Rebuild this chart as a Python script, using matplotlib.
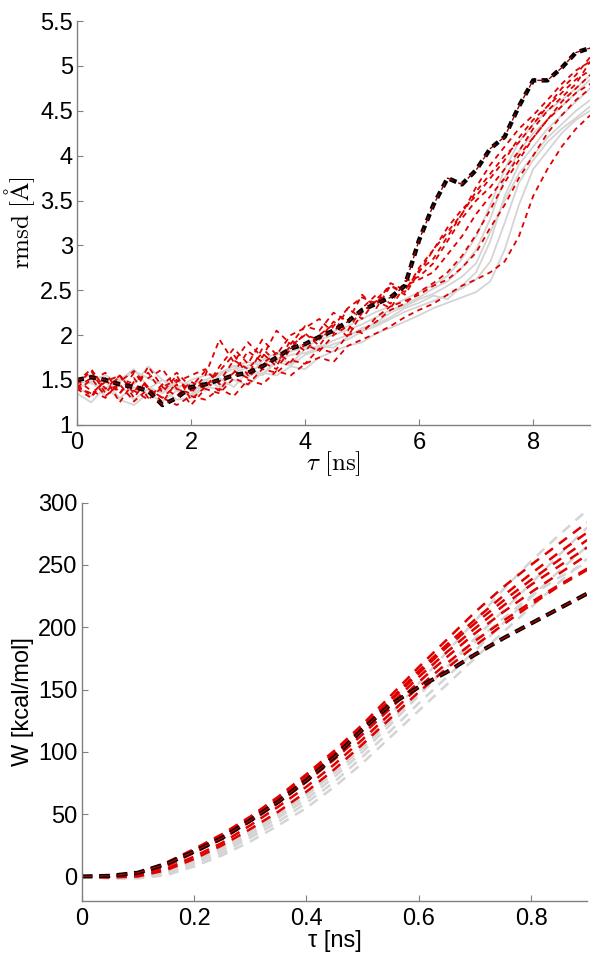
import numpy as np
import matplotlib.pyplot as plt

plt.rcParams['font.family'] = ['Liberation Sans', 'DejaVu Sans']
plt.rcParams['mathtext.fontset'] = 'cm'

# ---- top panel: rmsd vs tau (ns), sampled every 0.25 ns ----
t_rmsd = np.arange(0, 9.001, 0.25)

rmsd_gray = [
    [1.42,1.32,1.48,1.30,1.42,1.34,1.26,1.38,1.32, 1.45,1.52,1.42,1.60,1.55,1.70,1.66,1.78,
     1.84,1.90,1.95,2.04,2.10,2.18,2.26,2.32, 2.38,2.45,2.52,2.62,2.82, 3.25,3.70,3.95,4.15,4.30,4.42,4.55],
    [1.48,1.56,1.38,1.50,1.62,1.42,1.35,1.48,1.44, 1.38,1.55,1.66,1.52,1.72,1.75,1.68,1.84,
     1.88,1.86,1.98,2.08,2.12,2.20,2.30,2.36, 2.44,2.40,2.55,2.70,3.05, 3.55,3.90,4.10,4.30,4.45,4.60,4.75],
    [1.35,1.25,1.42,1.28,1.22,1.35,1.40,1.28,1.30, 1.42,1.40,1.50,1.44,1.58,1.55,1.65,1.62,
     1.75,1.82,1.88,1.92,2.02,2.08,2.15,2.22, 2.30,2.36,2.42,2.48,2.60, 2.95,3.45,3.85,4.05,4.25,4.40,4.50],
    [1.45,1.50,1.55,1.48,1.60,1.52,1.45,1.40,1.50, 1.55,1.58,1.65,1.70,1.66,1.78,1.82,1.86,
     1.95,2.00,2.06,2.12,2.20,2.28,2.34,2.42, 2.52,2.60,2.75,2.95,3.30, 3.75,4.05,4.25,4.40,4.55,4.70,4.85],
    [1.40,1.48,1.32,1.45,1.28,1.40,1.50,1.38,1.34, 1.50,1.42,1.58,1.64,1.56,1.72,1.78,1.80,
     1.86,1.94,2.00,2.06,2.14,2.25,2.32,2.40, 2.46,2.55,2.65,2.80,3.15, 3.50,3.80,4.00,4.20,4.35,4.50,4.62],
    [1.50,1.46,1.40,1.52,1.45,1.65,1.50,1.42,1.46, 1.50,1.56,1.62,1.66,1.72,1.80,1.85,1.90,
     1.98,2.04,2.10,2.18,2.26,2.32,2.40,2.48, 2.56,2.66,2.85,3.10,3.45, 3.85,4.15,4.35,4.50,4.62,4.75,4.90],
]

rmsd_red = [
    [1.45,1.60,1.35,1.55,1.30,1.52,1.62,1.40,1.35, 1.55,1.95,1.70,1.92,1.75,2.05,1.90,2.10,
     2.05,2.25,2.15,2.45,2.30,2.55,2.45,2.70, 2.95,3.20,3.40,3.55,3.75, 3.95,4.20,4.40,4.55,4.70,4.85,4.95],
    [1.40,1.30,1.52,1.25,1.48,1.58,1.36,1.55,1.28, 1.42,1.60,1.78,1.55,1.85,1.70,1.88,2.00,
     1.95,2.15,2.05,2.30,2.45,2.35,2.60,2.65, 2.80,3.05,3.30,3.50,3.65, 3.85,4.05,4.30,4.50,4.65,4.80,5.05],
    [1.50,1.38,1.30,1.48,1.60,1.42,1.25,1.48,1.55, 1.62,1.45,1.58,1.82,1.70,1.62,1.85,2.02,
     1.88,2.10,2.30,2.18,2.40,2.55,2.48,2.75, 2.95,3.15,3.35,3.60,3.80, 4.00,4.15,4.35,4.55,4.75,4.90,5.10],
    [1.42,1.52,1.32,1.45,1.26,1.40,1.30,1.22,1.32, 1.28,1.40,1.32,1.50,1.45,1.60,1.55,1.68,
     1.75,1.70,1.88,1.95,2.02,2.10,2.20,2.28, 2.35,2.45,2.55,2.62,2.70, 2.82,3.10,3.55,3.85,4.10,4.30,4.45],
    [1.38,1.50,1.58,1.35,1.52,1.30,1.45,1.58,1.42, 1.60,1.48,1.72,1.62,1.80,1.65,1.95,1.82,
     2.00,2.12,1.98,2.25,2.38,2.30,2.55,2.62, 2.70,2.90,3.10,3.35,3.55, 3.75,4.00,4.20,4.40,4.60,4.75,4.90],
    [1.45,1.32,1.50,1.35,1.58,1.40,1.30,1.45,1.22, 1.40,1.35,1.52,1.45,1.62,1.58,1.72,1.68,
     1.85,1.80,2.00,2.05,2.15,2.28,2.35,2.48, 2.58,2.70,2.88,3.12,3.40, 3.70,3.95,4.20,4.40,4.55,4.70,4.80],
    [1.48,1.62,1.40,1.55,1.35,1.65,1.42,1.32,1.48, 1.40,1.65,1.85,1.68,1.95,1.78,2.00,2.08,
     2.18,2.02,2.30,2.42,2.35,2.58,2.50,2.72, 2.85,3.10,3.35,3.65,3.90, 4.10,4.30,4.45,4.62,4.80,4.95,5.05],
    [1.42,1.35,1.48,1.55,1.38,1.28,1.42,1.50,1.38, 1.48,1.38,1.60,1.52,1.68,1.80,1.70,1.90,
     1.82,2.00,2.10,2.02,2.20,2.32,2.38,2.45, 2.55,2.62,2.75,2.92,3.20, 3.45,3.75,4.00,4.25,4.45,4.62,4.75],
]

rmsd_best = [1.50,1.53,1.50,1.45,1.42,1.38,1.22,1.30,1.42, 1.45,1.50,1.55,1.58,1.65,1.75,1.85,1.90,
             1.98,2.05,2.15,2.28,2.35,2.42,2.55,3.06, 3.45,3.75,3.68,3.84,4.08, 4.21,4.55,4.84,4.84,4.98,5.15,5.20]

# ---- bottom panel: work vs tau (ns), every 0.05 ns ----
t_work = np.arange(0, 0.9001, 0.05)

work_gray = [
    [0,-1,-0.5,4,13,23,36,51,67,86,107,130,155,180,205,230,253,274,294],
    [0,-1,-1,3,11,21,33,47,62,80,100,122,145,168,191,213,235,258,280],
    [0,-1.5,-1,2,10,19,31,44,59,76,96,117,139,160,181,203,224,245,265],
    [0,-1.5,-1.5,1,8,17,28,41,55,72,91,112,133,154,175,196,216,236,255],
    [0,-1,-0.5,3,12,22,35,49,65,83,103,125,147,168,188,207,225,240,252],
]

work_red = [
    [0,0.5,3,11,22,34,48,64,82,101,122,145,168,190,212,232,250,267,284],
    [0,0.3,2.5,10,21,33,47,63,80,99,120,142,165,186,206,225,243,260,276],
    [0,0.2,2,9,20,32,46,61,78,97,117,138,160,180,199,217,234,249,264],
    [0,0,1.5,8,19,30,44,59,76,94,114,135,156,176,195,212,228,243,258],
    [0,-0.5,0.5,6,16,27,41,56,72,90,110,131,152,171,189,205,220,234,247],
    [0,0.4,3,10,21,33,47,62,80,99,119,141,163,184,203,221,238,254,270],
    [0,-0.8,0,5,14,25,38,52,68,86,106,127,148,167,185,202,218,233,246],
]

work_best = [0,0.5,3,10,20,31,45,60,77,96,118,138,152,164,178,191,203,215,227]

gray = '#d4d4d4'
red = '#e00000'
axcol = '#808080'

fig = plt.figure(figsize=(6.01, 9.61), dpi=100)
ax1 = fig.add_axes([0.128, 0.558, 0.854, 0.420])
ax2 = fig.add_axes([0.136, 0.062, 0.841, 0.415])

for y in rmsd_gray:
    ax1.plot(t_rmsd, y, '-', color=gray, lw=1.3)
for y in rmsd_red:
    ax1.plot(t_rmsd, y, '--', color=red, lw=1.3, dashes=(3, 2.5))
ax1.plot(t_rmsd, rmsd_best, '--', color='black', lw=3.2, dashes=(1.6, 1.2))
ax1.plot(t_rmsd, rmsd_best, '--', color='#8b0000', lw=1.0, dashes=(5.1, 3.8))

for y in work_gray:
    ax2.plot(t_work, y, '--', color=gray, lw=1.8, dashes=(4, 3))
for y in work_red:
    ax2.plot(t_work, y, '--', color=red, lw=1.8, dashes=(4, 3))
ax2.plot(t_work, work_best, '--', color='black', lw=3.0, dashes=(2.6, 1.6))
ax2.plot(t_work, work_best, '--', color='#b00000', lw=1.0, dashes=(7.8, 4.8))

ax1.set_xlim(0, 9)
ax1.set_ylim(1, 5.5)
ax1.set_xticks([0, 2, 4, 6, 8])
ax1.set_yticks(np.arange(1, 5.51, 0.5))
ax1.set_yticklabels(['1', '1.5', '2', '2.5', '3', '3.5', '4', '4.5', '5', '5.5'])
ax1.set_xlabel(r'$\tau\ [\mathrm{ns}]$', fontsize=18, labelpad=-3)
ax1.set_ylabel(r'$\mathrm{rmsd}\ [\mathrm{\AA}]$', fontsize=18, labelpad=2)

ax2.set_xlim(0, 0.9)
ax2.set_ylim(-20, 300)
ax2.set_xticks([0, 0.2, 0.4, 0.6, 0.8])
ax2.set_xticklabels(['0', '0.2', '0.4', '0.6', '0.8'])
ax2.set_yticks(np.arange(0, 301, 50))
ax2.set_xlabel('τ [ns]', fontsize=17, labelpad=0)
ax2.set_ylabel('W [kcal/mol]', fontsize=17, labelpad=3)

for ax in (ax1, ax2):
    for s in ('top', 'right'):
        ax.spines[s].set_visible(False)
    for s in ('left', 'bottom'):
        ax.spines[s].set_color(axcol)
        ax.spines[s].set_linewidth(1.0)
    ax.tick_params(direction='in', length=4, color=axcol, labelsize=17)
    ax.tick_params(axis='y', pad=3)
    ax.tick_params(axis='x', pad=5)

fig.savefig('out.png', dpi=100)
